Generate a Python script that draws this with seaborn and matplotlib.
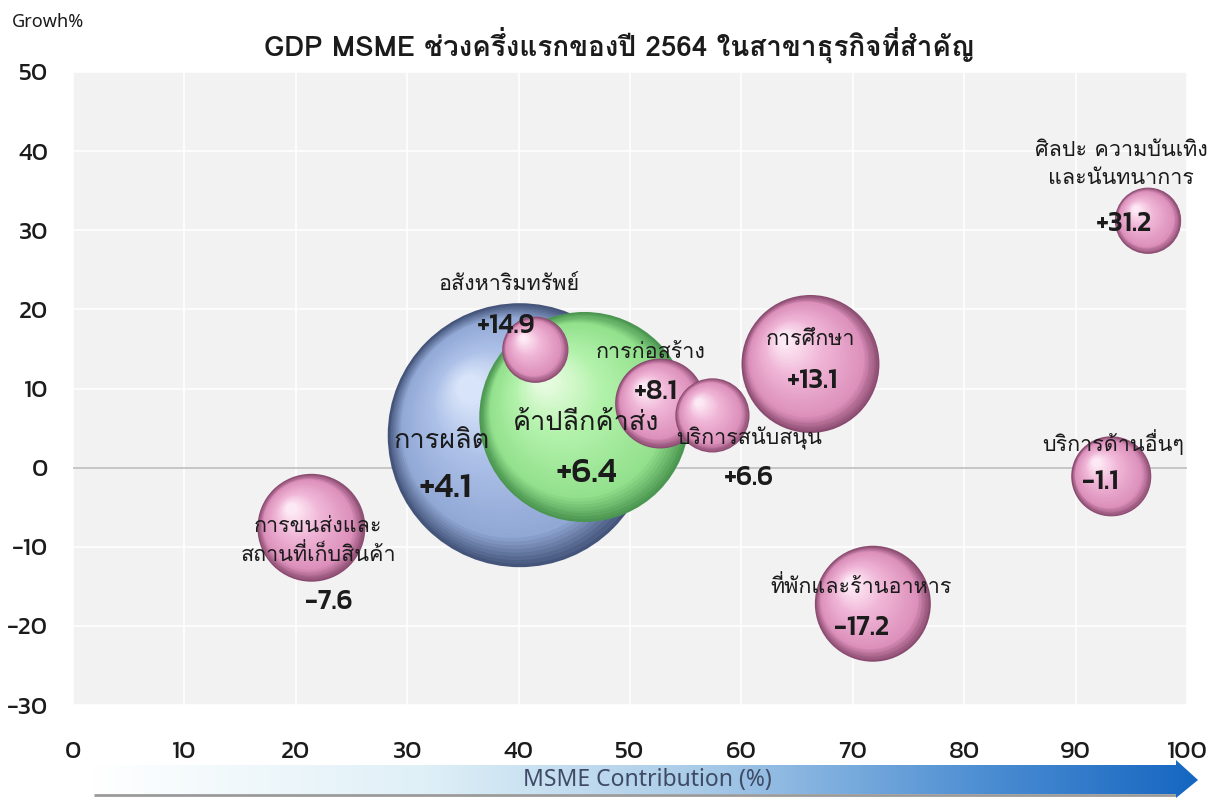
import numpy as np
import pandas as pd
import seaborn as sns
import matplotlib
matplotlib.use("Agg")
import matplotlib.pyplot as plt
from matplotlib.transforms import ScaledTranslation
from matplotlib.colors import to_rgb
from matplotlib.patches import Polygon

# data
sectors = ["การผลิต", "ค้าปลีกค้าส่ง", "อสังหาริมทรัพย์", "การก่อสร้าง", "บริการสนับสนุน",
           "การศึกษา", "ศิลปะ ความบันเทิง\nและนันทนาการ", "บริการด้านอื่นๆ",
           "ที่พักและร้านอาหาร", "การขนส่งและ\nสถานที่เก็บสินค้า"]
contribution = [40.1, 45.9, 41.5, 52.7, 57.4, 66.2, 96.5, 93.2, 71.8, 21.4]
growth = [4.1, 6.4, 14.9, 8.1, 6.6, 13.1, 31.2, -1.1, -17.2, -7.6]
bubble_size = [100, 63.3, 6.3, 11.6, 7.9, 27.3, 6.3, 9.2, 19.3, 16.7]
group = ["blue", "green", "pink", "pink", "pink", "pink", "pink", "pink", "pink", "pink"]

df = pd.DataFrame({"sector": sectors, "x": contribution, "y": growth,
                   "size": bubble_size, "group": group})

# label placement (x, y) for name and value
name_pos = [(33.1, 3.4), (46.1, 5.6), (39.1, 23.2), (51.9, 14.6), (60.7, 3.7),
            (66.2, 16.2), (94.1, 38.3), (93.4, 3.1), (70.7, -15.1), (22.0, -9.3)]
value_pos = [(33.4, -2.7), (46.1, -0.7), (38.9, 17.9), (52.3, 9.6), (60.7, -1.3),
             (66.4, 10.9), (94.3, 30.8), (92.2, -1.8), (70.8, -20.3), (23.0, -17.0)]
name_fs = [19.5, 19.5, 15.5, 15.5, 15.5, 15.5, 15.5, 15.5, 15.5, 15.5]
value_fs = [25, 25, 20, 20, 20, 20, 20, 20, 20, 20]

palettes = {
    "pink": ["#8a4a6f", "#dc90bb", "#f0b6d7", "#fde9f5"],
    "blue": ["#44547a", "#91a8d5", "#adc1e8", "#d8e4f9"],
    "green": ["#4b9651", "#92e08c", "#b3f2ab", "#e4fbdd"],
}

# matplotlib does no Thai shaping: use Loma's legacy glyphs for marks
UPPER = set("\u0e31\u0e34\u0e35\u0e36\u0e37\u0e47\u0e4d")
LOWER = set("\u0e38\u0e39\u0e3a")
TALL = set("ปฝฟฬ")
UPPER_LEFT = {"\u0e31": "\uf710", "\u0e34": "\uf701", "\u0e35": "\uf702", "\u0e36": "\uf703",
              "\u0e37": "\uf704", "\u0e47": "\uf712", "\u0e4d": "\uf711"}


def thai(s):
    out = []
    for i, ch in enumerate(s):
        cp = ord(ch)
        prev = s[i - 1] if i > 0 else ""
        if 0x0E48 <= cp <= 0x0E4C:
            if prev in UPPER:
                base = s[i - 2] if i > 1 else ""
                out.append(chr(0xF713 + cp - 0x0E48) if base in TALL else ch)
            else:
                base = s[i - 2] if prev in LOWER and i > 1 else prev
                out.append(chr((0xF705 if base in TALL else 0xF70A) + cp - 0x0E48))
        elif ch in UPPER and prev in TALL:
            out.append(UPPER_LEFT[ch])
        else:
            out.append(ch)
    return "".join(out)


sns.set_theme(style="darkgrid", rc={"axes.facecolor": "#f2f2f2", "grid.color": "white",
                                    "grid.linewidth": 1.2})
plt.rcParams["font.family"] = ["Noto Sans", "Loma", "DejaVu Sans"]
plt.rcParams["axes.unicode_minus"] = False
THAI = ["Loma", "Noto Sans", "DejaVu Sans"]
NUM = ["Kanit", "DejaVu Sans"]

fig = plt.figure(figsize=(12.19, 7.98), dpi=100)
ax = fig.add_axes([73 / 1219, 1 - 705 / 798, 1114 / 1219, 633 / 798])

R_MAX = 132 * 0.72  # radius in points of the largest bubble


def sphere(x, y, val, pal, z, n=45):
    r = R_MAX * np.sqrt(val / 100.0)
    cols = np.array([to_rgb(c) for c in pal])
    stops = [0.0, 0.18, 0.65, 1.0]
    sns.scatterplot(x=[x], y=[y], s=(2 * r) ** 2, color=pal[0], linewidth=0,
                    edgecolor="none", zorder=z, ax=ax, legend=False)
    for i in range(1, n):
        f = i / (n - 1)
        rr = r * (1 - 0.9 * f)
        dx, dy = -0.38 * r * f, 0.36 * r * f
        col = [np.interp(f, stops, cols[:, j]) for j in range(3)]
        tr = ax.transData + ScaledTranslation(dx / 72, dy / 72, fig.dpi_scale_trans)
        ax.scatter([x], [y], s=(2 * rr) ** 2, color=col, linewidth=0,
                   transform=tr, zorder=z)


for k, row in df.iterrows():
    sphere(row.x, row.y, row["size"], palettes[row.group], 3 + k * 0.1)

txt_col = "#1b1b1b"
for k, row in df.iterrows():
    nx, ny = name_pos[k]
    vx, vy = value_pos[k]
    ax.text(nx, ny, thai(row.sector), ha="center", va="center", fontsize=name_fs[k],
            color=txt_col, zorder=10, linespacing=1.4, family=THAI)
    ax.text(vx, vy, f"{row.y:+.1f}", ha="center", va="center", fontsize=value_fs[k],
            color=txt_col, zorder=10, fontweight="medium", family=NUM)

ax.axhline(0, color="#b8b8b8", lw=1.1, zorder=1.5)
ax.set_xlim(0, 100)
ax.set_ylim(-30, 50)
ax.set_xticks(range(0, 101, 10))
ax.set_yticks(range(-30, 51, 10))
ax.set_xlabel("")
ax.set_ylabel("")
ax.tick_params(axis="x", labelsize=18, pad=20, colors=txt_col)
ax.tick_params(axis="y", labelsize=18, pad=12, colors=txt_col)
for lbl in ax.get_xticklabels() + ax.get_yticklabels():
    lbl.set_family(NUM)
    lbl.set_fontweight("regular")
for sp in ax.spines.values():
    sp.set_visible(False)

fig.text(0.508, 0.944, thai("GDP MSME ช่วงครึ่งแรกของปี 2564 ในสาขาธุรกิจที่สำคัญ"),
         ha="center", va="center", fontsize=20, fontweight="bold", color=txt_col, family=THAI)
fig.text(0.01, 0.972, "Growh%", ha="left", va="center", fontsize=13, color=txt_col)

# gradient arrow under the x axis
ax2 = fig.add_axes([0, 0, 1, 48 / 798])
ax2.set_xlim(0, 1219)
ax2.set_ylim(0, 48)
ax2.axis("off")
arrow = Polygon([(92, 4), (1176, 4), (1176, 0), (1198, 18), (1176, 38), (1176, 33), (92, 33)],
                closed=True, facecolor="none", edgecolor="none")
ax2.add_patch(arrow)
ax2.plot([94, 1176], [3, 3], color="#9a9a9a", lw=2, solid_capstyle="butt")
grad_pos = [0.0, 0.3, 0.55, 0.8, 1.0]
grad_col = np.array([to_rgb(c) for c in ["#ffffff", "#dff0f7", "#a9cbe8", "#4f8fd3", "#1566c1"]])
t = np.linspace(0, 1, 600)
img = np.stack([np.interp(t, grad_pos, grad_col[:, j]) for j in range(3)], axis=-1)[None, :, :]
im = ax2.imshow(img, extent=(92, 1198, 0, 38), aspect="auto", zorder=2)
im.set_clip_path(arrow)
ax2.text(647, 18, "MSME Contribution (%)", ha="center", va="center", fontsize=16.5,
         color="#3f4b66", zorder=3)

fig.savefig("out.png", dpi=100, facecolor="white")
